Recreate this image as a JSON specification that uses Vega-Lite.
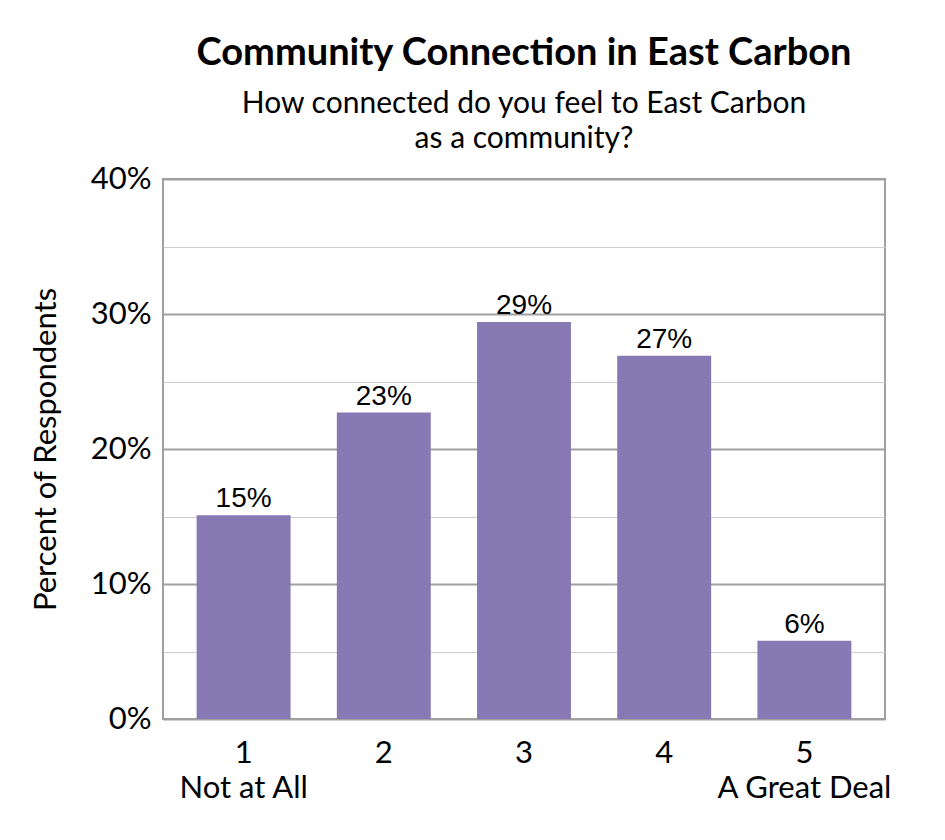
{
  "$schema": "https://vega.github.io/schema/vega-lite/v6.json",
  "autosize": "none",
  "width": 722,
  "height": 540,
  "padding": {"left": 163, "top": 179, "right": 60, "bottom": 121},
  "background": "white",
  "title": {
    "text": "Community Connection in East Carbon",
    "subtitle": ["How connected do you feel to East Carbon", "as a community?"],
    "anchor": "middle",
    "frame": "group",
    "font": "Lato",
    "fontSize": 38,
    "fontWeight": "bold",
    "color": "black",
    "subtitleFont": "Lato",
    "subtitleFontSize": 30,
    "subtitleColor": "black",
    "subtitleLineHeight": 35,
    "subtitlePadding": 16,
    "offset": 9
  },
  "data": {
    "values": [
      {"rating": "1", "pct": 15.1, "label": "15%"},
      {"rating": "2", "pct": 22.7, "label": "23%"},
      {"rating": "3", "pct": 29.4, "label": "29%"},
      {"rating": "4", "pct": 26.9, "label": "27%"},
      {"rating": "5", "pct": 5.8, "label": "6%"}
    ]
  },
  "config": {
    "view": {"stroke": "#a0a0a0", "strokeWidth": 2},
    "axis": {"domain": false, "ticks": false}
  },
  "encoding": {
    "x": {
      "field": "rating",
      "type": "ordinal",
      "scale": {"paddingInner": 0.33, "paddingOuter": 0.24},
      "axis": {
        "title": null,
        "labelAngle": 0,
        "labelFont": "Lato",
        "labelFontSize": 31,
        "labelColor": "black",
        "labelPadding": 19,
        "labelLineHeight": 35,
        "labelExpr": "datum.value == '1' ? ['1', 'Not at All'] : datum.value == '5' ? ['5', 'A Great Deal'] : datum.value"
      }
    },
    "y": {
      "field": "pct",
      "type": "quantitative",
      "scale": {"domain": [0, 40], "nice": false},
      "axis": {
        "title": "Percent of Respondents",
        "titleFont": "Lato",
        "titleFontSize": 31,
        "titleFontWeight": "normal",
        "titleColor": "black",
        "titlePadding": 28,
        "values": [0, 5, 10, 15, 20, 25, 30, 35, 40],
        "labelExpr": "datum.value % 10 == 0 ? datum.value + '%' : ''",
        "labelFont": "Lato",
        "labelFontSize": 31,
        "labelColor": "black",
        "labelPadding": 12,
        "grid": true,
        "gridColor": {"condition": {"test": "datum.value % 10 == 0", "value": "#a0a0a0"}, "value": "#cccccc"},
        "gridWidth": {"condition": {"test": "datum.value % 10 == 0", "value": 2}, "value": 1}
      }
    }
  },
  "layer": [
    {"mark": {"type": "bar", "color": "#8779b4"}},
    {
      "mark": {"type": "text", "baseline": "bottom", "dy": -2, "font": "Liberation Sans", "fontSize": 28, "color": "black"},
      "encoding": {"text": {"field": "label"}}
    }
  ]
}
